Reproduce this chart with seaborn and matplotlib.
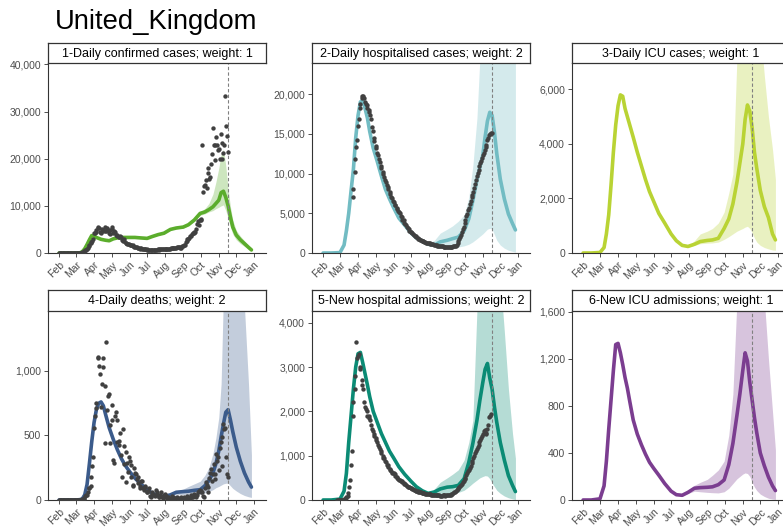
import numpy as np
import pandas as pd
import matplotlib
matplotlib.use("Agg")
import matplotlib.pyplot as plt
import matplotlib.dates as mdates
from matplotlib.ticker import FuncFormatter
import seaborn as sns

# -----------------------------
# data
# -----------------------------
model_dates = pd.to_datetime([
    "2020-02-01", "2020-02-15", "2020-03-01", "2020-03-08", "2020-03-12", "2020-03-16",
    "2020-03-20", "2020-03-24", "2020-03-28", "2020-04-01", "2020-04-05", "2020-04-09",
    "2020-04-13", "2020-04-17", "2020-04-21", "2020-04-27", "2020-05-04", "2020-05-11",
    "2020-05-18", "2020-05-25", "2020-06-01", "2020-06-10", "2020-06-20", "2020-07-01",
    "2020-07-10", "2020-07-20", "2020-07-30", "2020-08-10", "2020-08-20", "2020-09-01",
    "2020-09-10", "2020-09-20", "2020-09-30", "2020-10-08", "2020-10-15", "2020-10-22",
    "2020-10-27", "2020-11-01", "2020-11-05", "2020-11-09", "2020-11-13", "2020-11-17",
    "2020-11-21", "2020-11-25", "2020-12-01", "2020-12-08", "2020-12-15", "2020-12-22",
    "2020-12-27"])
band_dates = model_dates[20:]          # uncertainty band, Jun 1 onwards
# observed points: two interleaved 3-day grids (Feb 1.. / Feb 2..)
obs_dates_a = pd.date_range("2020-02-01", "2020-11-15", freq="3D")
obs_dates_b = pd.date_range("2020-02-02", "2020-11-16", freq="3D")
last_data = pd.Timestamp("2020-11-16")
nan = np.nan

# 1 - daily confirmed cases
cases_mid = [0, 0, 0, 50, 300, 900, 1800, 2800, 3700, 3600, 3300, 3100, 2900, 2800, 2700, 2600,
             3000, 3200, 3300, 3300, 3300, 3300, 3200, 3100, 3500, 3900, 4200, 5000, 5300, 5500,
             6000, 7000, 8400, 8700, 9200, 9800, 10500, 11200, 12800, 13100, 11800, 10000, 7600,
             5500, 3800, 2800, 2000, 1200, 650]
cases_lo = [3200, 3200, 3100, 3000, 3400, 3800, 4100, 4900, 5150, 5300, 5800, 6700, 8000, 8300,
            8700, 9000, 9400, 9700, 10000, 10200, 9000, 7400, 5500, 4000, 2800, 2000, 1400, 800, 400]
cases_hi = [3400, 3400, 3300, 3200, 3600, 4000, 4300, 5100, 5450, 5700, 6200, 7300, 8800, 9400,
            10500, 12500, 15000, 18000, 21000, 22000, 18500, 13500, 9800, 7000, 4800, 3600, 2600, 1600, 900]
cases_obs_a = [0, 0, 0, 0, 0, 0, 0, 0, 0, 0,
               10, 20, 50, 100, 250, 600, 900, 1400, 2100, 2500,
               4300, 4400, 5300, 5200, 4300, 4600, 5500, 4600, 4900, 4000,
               5000, 4300, 4500, 3800, 3400, 3500, 2700, 2900, 2200, 2000, 1900,
               1700, 1600, 1300, 1200, 1100, 1000, 1000, 900, 800, 750,
               700, 600, 650, 600, 650, 700, 700, 750, 800, 800,
               750, 800, 900, 1000, 1000, 1100, 1000, 1200, 1300, 1100,
               1500, 1800, 2900, 3000, 3500, 4000, 4300, 4500, 6200, 6000,
               6900, 22900, 14200, 15500, 17000, 15600, 18800, 26600, 19700, 24700, 21900,
               20000, 23300, 21300, 33400, 24900]
cases_obs_b = [0, 0, 0, 0, 0, 0, 0, 0, 0, 0,
               10, 30, 70, 150, 350, 700, 1000, 1700, 2400, 3000,
               4200, 4900, 5600, 4500, 5100, 4800, 4700, 5400, 4300, 4900,
               5500, 4600, 3900, 3600, 3300, 3300, 2600, 2500, 2100, 1900,
               1800, 1700, 1400, 1300, 1200, 1050, 950, 850, 900, 800,
               700, 650, 650, 650, 650, 700, 750, 750, 800, 800, 850,
               800, 850, 950, 1050, 1100, 1050, 1200, 1300, 1100, 1500,
               1600, 2400, 2600, 3200, 3500, 4200, 4400, 5000, 6700, 7100,
               7200, 12900, 14500, 13800, 18000, 16100, 21000, 23000, 23000, 23000,
               22000, 25200, 20000, 22900, 27000, 21400]

# 2 - daily hospitalised cases
hosp_mid = [0, 0, 50, 1000, 2800, 5000, 7800, 10500, 14500, 17300, 19000, 19200, 18200, 17000,
            15300, 13200, 11500, 9700, 8000, 6800, 5700, 4400, 3500, 2500, 1900, 1500, 1100, 1000,
            1400, 1600, 1800, 2000, 2800, 4300, 6600, 9200, 10800, 12300, 14600, 16600, 17700,
            17300, 15200, 12500, 9300, 6800, 4900, 3700, 2900]
hosp_lo = [5500, 4200, 3300, 2300, 1750, 1350, 1000, 850, 800, 750, 700, 750, 900, 1100, 1400,
           1800, 2100, 2400, 2700, 3000, 3100, 3000, 2300, 1600, 1000, 600, 350, 200, 100]
hosp_hi = [5900, 4600, 3700, 2700, 2050, 1650, 1250, 1600, 2500, 3000, 3400, 4000, 4800, 7000,
           11000, 17000, 24500, 30000, 34000, 36000, 36000, 36000, 35000, 33000, 31000, 29000,
           27000, 26000, 25000]
hosp_obs_a = [nan, nan, nan, nan, nan, nan, nan, nan, nan, nan,
              nan, nan, nan, nan, nan, nan, nan, 7000, 10200, 13300,
              16000, 18200, 19500, 19800, 19000, 18600, 18000, 17300, 15800, 14500,
              13500, 12600, 11800, 10900, 10200, 9500, 8900, 8300, 7700, 7100, 6600,
              6100, 5700, 5300, 5000, 4500, 4100, 3700, 3300, 3000, 2700,
              2500, 2300, 2100, 1900, 1750, 1600, 1500, 1400, 1300, 1250,
              1200, 1150, 1100, 1000, 950, 900, 850, 850, 800, 800,
              800, 800, 800, 800, 850, 900, 1200, 1700, 2300, 3000,
              3800, 4600, 5400, 6200, 7000, 7700, 8700, 9700, 10500, 11300, 12000,
              12600, 13300, 14200, 14900, 15100]
hosp_obs_b = [nan, nan, nan, nan, nan, nan, nan, nan, nan, nan,
              nan, nan, nan, nan, nan, nan, nan, 8100, 11800, 14200,
              16800, 18700, 19700, 19500, 18700, 18200, 17700, 16900, 15400, 14100,
              13200, 12300, 11500, 10700, 9900, 9200, 8600, 8000, 7400, 6900,
              6400, 6000, 5500, 5100, 4700, 4200, 3800, 3500, 3100, 2800,
              2600, 2400, 2200, 2000, 1800, 1650, 1550, 1450, 1350, 1250, 1200,
              1170, 1120, 1050, 980, 930, 880, 850, 820, 800, 800,
              800, 800, 800, 820, 870, 1050, 1450, 2000, 2600, 3300,
              4100, 4900, 5700, 6500, 7300, 8200, 9200, 10100, 10900, 11600,
              12300, 12900, 13600, 14500, 15000, 15100]

# 3 - daily ICU cases
icu_mid = [0, 0, 20, 200, 700, 1400, 2500, 3700, 4700, 5400, 5800, 5750, 5300, 5000, 4700, 4250,
           3700, 3200, 2700, 2250, 1900, 1450, 1100, 700, 450, 280, 240, 320, 420, 460, 480, 540,
           900, 1250, 1800, 2600, 3300, 4000, 4900, 5430, 5200, 4600, 3700, 3100, 2300, 1700,
           1300, 700, 480]
icu_lo = [1850, 1400, 1050, 660, 420, 260, 220, 280, 340, 360, 370, 400, 500, 600, 700, 800,
          850, 900, 950, 980, 900, 750, 550, 400, 280, 200, 150, 110, 100]
icu_hi = [1950, 1500, 1150, 740, 480, 300, 260, 450, 700, 800, 900, 1100, 1500, 2200, 2900,
          7200, 9500, 11000, 12000, 12500, 12000, 11000, 10000, 9000, 8200, 6500, 5000, 3800, 2700]

# 4 - daily deaths
deaths_mid = [0, 0, 0, 3, 10, 40, 120, 280, 450, 600, 700, 750, 760, 730, 660, 560, 470, 390,
              320, 265, 220, 170, 125, 80, 52, 35, 27, 40, 60, 65, 68, 75, 80, 110, 150, 210,
              280, 380, 490, 590, 680, 700, 620, 530, 410, 300, 210, 140, 100]
deaths_lo = [210, 160, 118, 75, 48, 32, 24, 30, 40, 42, 42, 44, 45, 55, 65, 80, 95, 105, 115,
             125, 130, 130, 110, 90, 70, 50, 35, 25, 20]
deaths_hi = [230, 180, 132, 85, 56, 38, 32, 50, 70, 85, 105, 125, 145, 190, 250, 360, 480, 640,
             900, 1600, 2200, 2400, 2400, 2200, 2000, 1700, 1500, 900, 350]
deaths_obs_a = [0, 0, 0, 0, 0, 0, 0, 0, 0, 0,
                0, 0, 0, 2, 10, 30, 40, 90, 110, 260,
                560, 710, 1110, 1040, 720, 1100, 880, 1227, 810, 440,
                740, 310, 650, 620, 460, 520, 180, 420, 370, 290, 330,
                270, 120, 250, 200, 180, 110, 150, 90, 100, 60,
                70, 30, 50, 40, 30, 60, 20, 40, 25, 40,
                20, 10, 15, 5, 20, 10, 15, 5, 10, 20,
                5, 10, 3, 20, 10, 25, 30, 40, 35, 70,
                70, 60, 20, 140, 100, 170, 240, 200, 160, 360, 330,
                400, 490, 590, 560, 200]
deaths_obs_b = [0, 0, 0, 0, 0, 0, 0, 0, 0, 0,
                0, 0, 1, 5, 15, 35, 60, 90, 180, 330,
                650, 750, 1100, 980, 900, 1030, 440, 700, 820, 580,
                620, 290, 680, 450, 430, 350, 550, 280, 140, 220,
                300, 180, 110, 210, 160, 130, 90, 150, 80, 110,
                60, 90, 20, 60, 40, 80, 40, 25, 60, 15, 50,
                30, 20, 10, 30, 5, 15, 20, 10, 15, 5,
                20, 15, 30, 10, 40, 25, 50, 20, 60, 80,
                60, 30, 90, 120, 60, 210, 150, 280, 200, 300,
                230, 450, 260, 550, 330, 180]

# 5 - new hospital admissions
admit_mid = [0, 0, 20, 200, 600, 1300, 1900, 2500, 3000, 3300, 3330, 3100, 2850, 2600, 2330,
             2000, 1750, 1500, 1300, 1100, 950, 750, 580, 420, 300, 210, 150, 180, 250, 290, 300,
             330, 480, 850, 1280, 1800, 2250, 2650, 2950, 3080, 2750, 2500, 2100, 1750, 1300, 900,
             550, 330, 190]
admit_lo = [920, 730, 560, 400, 290, 200, 140, 130, 140, 150, 160, 170, 220, 300, 380, 450, 500,
            530, 550, 540, 480, 380, 300, 220, 150, 90, 50, 25, 10]
admit_hi = [980, 770, 600, 440, 310, 220, 160, 250, 400, 500, 580, 680, 900, 1300, 1800, 4300,
            5500, 6000, 6300, 6400, 6300, 6000, 5700, 5300, 5000, 3800, 2500, 1500, 940]
admit_obs_a = [nan, nan, nan, nan, nan, nan, nan, nan, 0, 0,
               0, 10, 20, 40, 100, 300, 800, 1900, 2500, 3570,
               3250, 3000, 2700, 2500, 2100, 2000, 1900, 1800, 1600, 1500,
               1400, 1300, 1200, 1100, 1000, 950, 850, 780, 700, 650, 600,
               580, 520, 480, 450, 420, 380, 350, 320, 300, 280,
               250, 230, 210, 200, 180, 170, 160, 150, 140, 140,
               130, 120, 120, 110, 110, 110, 100, 100, 110, 100,
               110, 110, 120, 140, 170, 200, 240, 290, 340, 400,
               480, 560, 650, 720, 830, 950, 1050, 1150, 1250, 1350, 1450,
               1550, 1500, 1600, 1880, 1950]
admit_obs_b = [nan, nan, nan, nan, nan, nan, nan, nan, 0, 0,
               0, 10, 30, 60, 150, 450, 1100, 2200, 2800, 3200,
               3300, 2950, 2600, 2200, 2050, 1900, 1850, 1700, 1550, 1450,
               1350, 1250, 1150, 1050, 950, 880, 800, 740, 680, 620,
               600, 540, 500, 460, 430, 400, 360, 330, 300, 290,
               260, 240, 220, 200, 190, 175, 160, 150, 145, 140, 135,
               125, 120, 115, 110, 110, 105, 100, 105, 105, 110,
               110, 115, 130, 150, 180, 220, 260, 310, 360, 430,
               500, 600, 680, 760, 880, 1000, 1100, 1200, 1300, 1400,
               1500, 1580, 1520, 1700, 1900, nan]

# 6 - new ICU admissions
icua_mid = [0, 0, 10, 120, 330, 600, 850, 1100, 1320, 1330, 1250, 1150, 1040, 950, 840, 680,
            560, 470, 390, 320, 270, 210, 140, 75, 45, 40, 65, 100, 105, 108, 112, 130, 170, 300,
            480, 720, 900, 1100, 1250, 1180, 1000, 850, 700, 570, 400, 290, 195, 120, 80]
icua_lo = [260, 200, 130, 70, 42, 36, 55, 75, 70, 65, 62, 60, 70, 100, 140, 180, 200, 220, 230,
           225, 200, 150, 110, 80, 50, 30, 15, 8, 5]
icua_hi = [280, 220, 150, 80, 50, 45, 75, 125, 150, 175, 210, 255, 330, 550, 900, 1700, 2000,
           2300, 2600, 2800, 2800, 2700, 2500, 2300, 2000, 1700, 1200, 750, 425]

titles = ["1-Daily confirmed cases; weight: 1", "2-Daily hospitalised cases; weight: 2",
          "3-Daily ICU cases; weight: 1", "4-Daily deaths; weight: 2",
          "5-New hospital admissions; weight: 2", "6-New ICU admissions; weight: 1"]
colors = ["#5bad2c", "#72bcc3", "#b9d334", "#3b5b8b", "#0b8b75", "#7b3d90"]
ymax = [40300, 23900, 6970, 1465, 4264, 1605]
ystep = [10000, 5000, 2000, 500, 1000, 400]

panels = [
    (cases_mid, cases_lo, cases_hi, cases_obs_a, cases_obs_b),
    (hosp_mid, hosp_lo, hosp_hi, hosp_obs_a, hosp_obs_b),
    (icu_mid, icu_lo, icu_hi, None, None),
    (deaths_mid, deaths_lo, deaths_hi, deaths_obs_a, deaths_obs_b),
    (admit_mid, admit_lo, admit_hi, admit_obs_a, admit_obs_b),
    (icua_mid, icua_lo, icua_hi, None, None),
]

# -----------------------------
# figure
# -----------------------------
sns.set_theme(style="ticks")
plt.rcParams["font.family"] = ["Liberation Sans", "DejaVu Sans"]

W, H = 783, 530
fig = plt.figure(figsize=(W / 100, H / 100), dpi=100)
fig.patch.set_facecolor("white")

col_left = [48, 312, 572]
row_top = [63, 311]
row_bottom = [253, 500]
strip_top = [43, 290]
panel_w = 218

grey = "#4d4d4d"
fmt = FuncFormatter(lambda v, _: f"{v:,.0f}")

for i, (mid, lo, hi, obs_a, obs_b) in enumerate(panels):
    r, c = divmod(i, 3)
    x0 = col_left[c]
    ax = fig.add_axes([x0 / W, 1 - row_bottom[r] / H, panel_w / W,
                       (row_bottom[r] - row_top[r]) / H])

    ax.fill_between(band_dates, lo, hi, color=colors[i], alpha=0.3, linewidth=0)
    sns.lineplot(x=model_dates, y=mid, ax=ax, color=colors[i], linewidth=2.6)
    if obs_a is not None:
        for d, v in ((obs_dates_a, obs_a), (obs_dates_b, obs_b)):
            sns.scatterplot(x=d, y=v, ax=ax, color="#404040", s=10,
                            linewidth=0, zorder=3)
    ax.axvline(last_data, color="#808080", linestyle=(0, (3, 2)), linewidth=0.8)

    ax.set_xlim(pd.Timestamp("2020-01-13"), pd.Timestamp("2021-01-21"))
    ax.set_ylim(0, ymax[i])
    ax.set_yticks(np.arange(0, ymax[i], ystep[i]))
    ax.yaxis.set_major_formatter(fmt)
    ax.xaxis.set_major_locator(mdates.MonthLocator())
    ax.xaxis.set_major_formatter(mdates.DateFormatter("%b"))
    ax.set_xlabel("")
    ax.set_ylabel("")
    sns.despine(ax=ax)
    for s in ["left", "bottom"]:
        ax.spines[s].set_color("#333333")
        ax.spines[s].set_linewidth(0.8)
    ax.tick_params(axis="both", labelsize=7.5, labelcolor=grey, color="#333333",
                   length=3, width=0.6, pad=2)
    ax.tick_params(axis="x", labelrotation=45)
    plt.setp(ax.get_xticklabels(), ha="right", rotation_mode="anchor")

    # facet strip
    sax = fig.add_axes([x0 / W, 1 - row_top[r] / H, panel_w / W,
                        (row_top[r] - strip_top[r]) / H])
    sax.set_xticks([])
    sax.set_yticks([])
    sax.set_facecolor("white")
    for s in sax.spines.values():
        s.set_color("#333333")
        s.set_linewidth(0.9)
    sax.text(0.5, 0.47, titles[i], ha="center", va="center", fontsize=9,
             color="black", transform=sax.transAxes)

fig.text(55 / W, 1 - 22 / H, "United_Kingdom", fontsize=19.7, ha="left", va="center",
         color="black")

fig.savefig("out.png", dpi=100)
